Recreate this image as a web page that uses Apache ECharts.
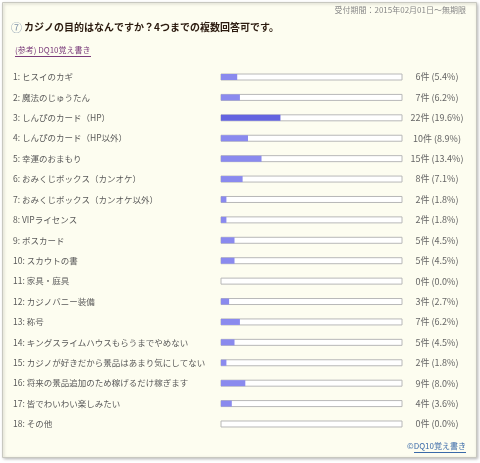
<!DOCTYPE html>
<html><head><meta charset="utf-8">
<script src="https://cdn.jsdelivr.net/npm/echarts@6/dist/echarts.min.js"></script>
<style>html,body{margin:0;padding:0;background:#fff}#c{width:480px;height:463px}</style>
</head><body><div id="c"></div>
<script>
const categories = [
  '1: ヒスイのカギ',
  '2: 魔法のじゅうたん',
  '3: しんぴのカード（HP）',
  '4: しんぴのカード（HP以外）',
  '5: 幸運のおまもり',
  '6: おみくじボックス（カンオケ）',
  '7: おみくじボックス（カンオケ以外）',
  '8: VIPライセンス',
  '9: ボスカード',
  '10: スカウトの書',
  '11: 家具・庭具',
  '12: カジノバニー装備',
  '13: 称号',
  '14: キングスライムハウスもらうまでやめない',
  '15: カジノが好きだから景品はあまり気にしてない',
  '16: 将来の景品追加のため稼げるだけ稼ぎます',
  '17: 皆でわいわい楽しみたい',
  '18: その他'
];
const counts = [6, 7, 22, 10, 15, 8, 2, 2, 5, 5, 0, 3, 7, 5, 2, 9, 4, 0];
const percents = ['5.4', '6.2', '19.6', '8.9', '13.4', '7.1', '1.8', '1.8', '4.5', '4.5', '0.0', '2.7', '6.2', '4.5', '1.8', '8.0', '3.6', '0.0'];
const valueLabels = counts.map((c, i) => c + '件 (' + percents[i] + '%)');
const titleText = 'カジノの目的はなんですか？4つまでの複数回答可です。';
const periodText = '受付期間：2015年02月01日～無期限';
const linkText = '(参考) DQ10覚え書き';
const footerText = '©DQ10覚え書き';

const maxCount = Math.max(...counts);
const font = '"MS PGothic","Noto Sans CJK JP",sans-serif';
const chart = echarts.init(document.getElementById('c'), null, {renderer: 'canvas'});
chart.setOption({
  backgroundColor: '#ffffff',
  animation: false,
  graphic: [
    {type: 'rect', shape: {x: 2.5, y: 2.5, width: 474, height: 455}, style: {fill: '#fdfdf0', stroke: '#c8c8c0', lineWidth: 1, shadowColor: 'rgba(0,0,0,0.25)', shadowBlur: 3, shadowOffsetX: 1, shadowOffsetY: 1}, z: -10},
    {type: 'text', left: 11, top: 22, style: {text: '⑦', fill: '#7f93a8', font: '11px ' + font}},
    {type: 'text', left: 24, top: 22, style: {text: titleText, fill: '#2b1a0e', font: 'bold 10px ' + font}},
    {type: 'text', right: 14, top: 6, style: {text: periodText, fill: '#888', font: '8px ' + font}},
    {type: 'text', left: 15, top: 46, style: {text: linkText, fill: '#7a3a7a', font: '8px ' + font}},
    {type: 'line', shape: {x1: 15, y1: 56.5, x2: 91, y2: 56.5}, style: {stroke: '#7a3a7a', lineWidth: 1}},
    {type: 'text', right: 14, top: 442, style: {text: footerText, fill: '#3a6aa8', font: '8px ' + font}},
    {type: 'line', shape: {x1: 414, y1: 452.5, x2: 466, y2: 452.5}, style: {stroke: '#3a6aa8', lineWidth: 1}}
  ],
  grid: {left: 221, right: 78, top: 66.8, bottom: 28.8},
  xAxis: {type: 'value', min: 0, max: 67, show: false},
  yAxis: [
    {type: 'category', data: categories, inverse: true,
     axisLine: {show: false}, axisTick: {show: false},
     axisLabel: {align: 'left', margin: 208, color: '#5a5a5a', fontSize: 8.5, fontFamily: font}},
    {type: 'category', data: valueLabels, inverse: true, position: 'right',
     axisLine: {show: false}, axisTick: {show: false},
     axisLabel: {align: 'center', margin: 35, color: '#666', fontSize: 9, fontFamily: font}}
  ],
  series: [{
    type: 'bar', data: counts, barWidth: 6,
    showBackground: true,
    backgroundStyle: {color: '#ffffff', borderColor: '#b8b8b8', borderWidth: 1},
    itemStyle: {color: p => p.value === maxCount ? '#6464e0' : '#8a8aee'}
  }]
});
</script></body></html>
